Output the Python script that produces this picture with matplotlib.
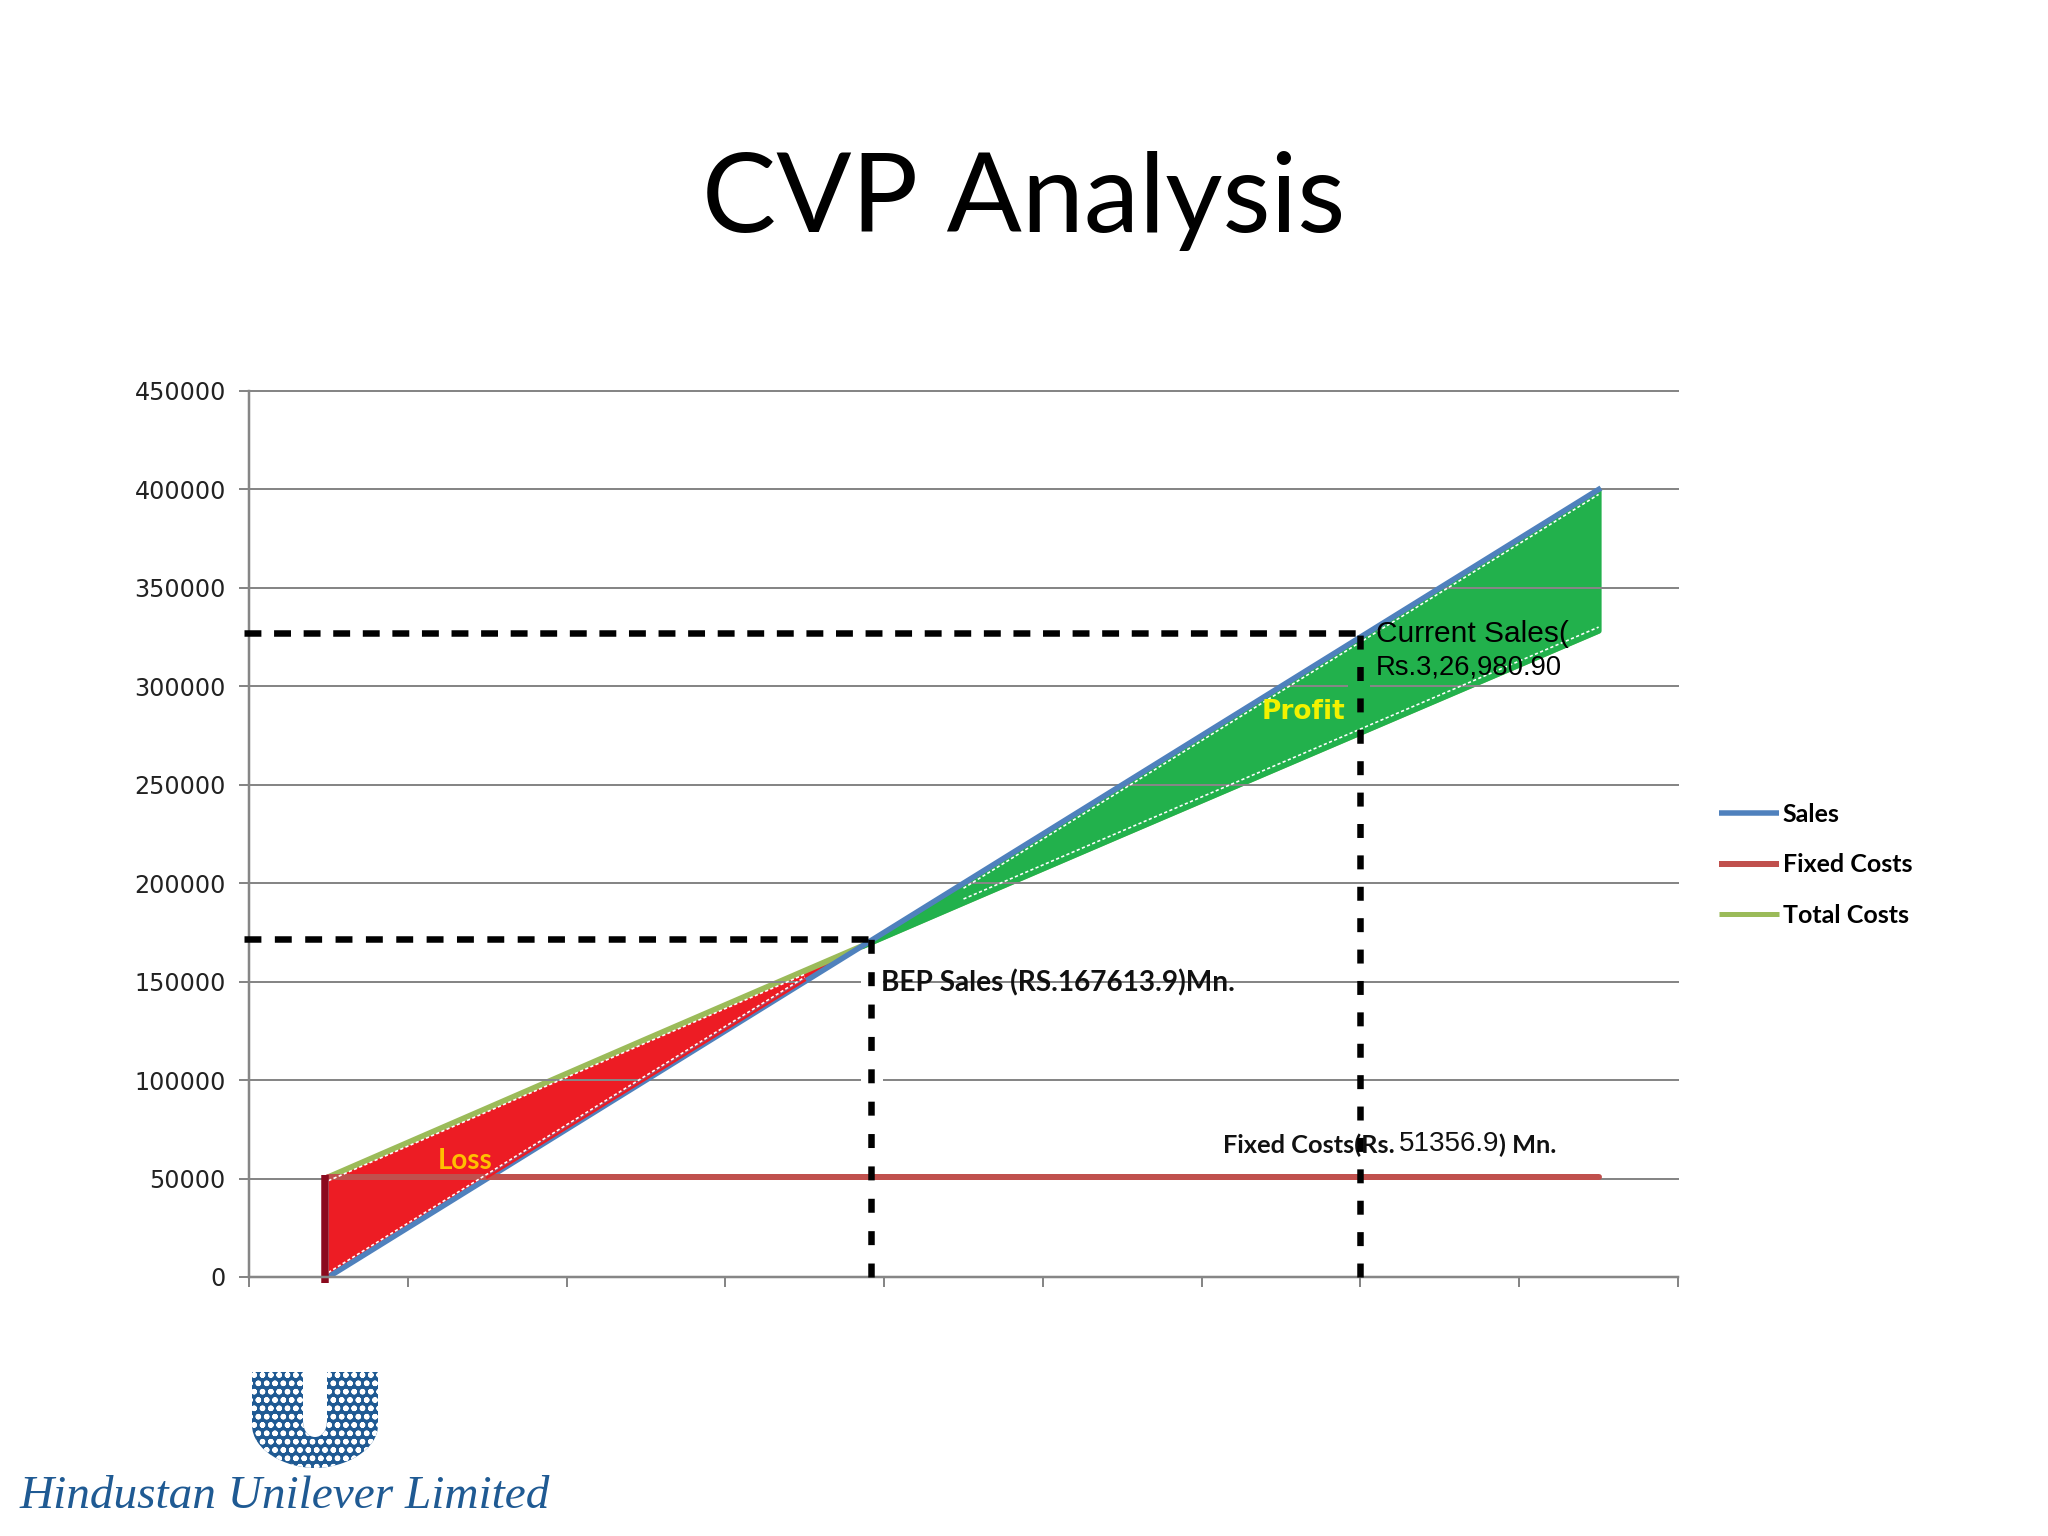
import matplotlib
matplotlib.use("Agg")
import matplotlib.pyplot as plt
import numpy as np
from matplotlib.patches import PathPatch
from matplotlib.path import Path
from matplotlib.transforms import Affine2D, offset_copy

W, H = 2048, 1536

# values
points = [0, 1, 2, 3, 4, 5, 6, 7, 8]
sales = [0, 50000, 100000, 150000, 200000, 250000, 300000, 350000, 400000]
fixed_costs = [50700, 50700, 50700, 50700, 50700, 50700, 50700, 50700, 50700]
total_costs = [50700, 85700, 120700, 155500, 190200, 224800, 259300, 293800, 328300]
y_ticks = [0, 50000, 100000, 150000, 200000, 250000, 300000, 350000, 400000, 450000]
bep_x, bep_y = 3.415, 171500
current_x, current_y = 6.5, 326980

BLUE = "#4F81BD"
BROWN = "#C0504D"
OLIVE = "#9BBB59"
RED = "#ED1C24"
GREEN = "#22B14C"
GRID = "#868686"
LOGO = "#1F5A93"
px = 72 / 100  # line widths are given in pixels below

plt.rcParams["hatch.linewidth"] = 1.6

fig = plt.figure(figsize=(W / 100, H / 100), dpi=100, facecolor="white")
ax = fig.add_axes([249 / W, 1 - 1277 / H, (1678 - 249) / W, (1277 - 391) / H])


def put(x, y, s, **kw):
    kw.setdefault("va", "center")
    kw.setdefault("zorder", 5)
    return ax.text(x / W, 1 - y / H, s, transform=fig.transFigure, clip_on=False, **kw)


x = np.array(points)
s = np.array(sales)
t = np.array(total_costs)

ax.fill_between(x, s, t, where=t >= s, interpolate=True, color=RED, lw=0, zorder=1.2)
ax.plot(points, total_costs, color=OLIVE, lw=6 * px, zorder=1.3, solid_capstyle="butt")
ax.fill_between(x, s, t, where=s >= t, interpolate=True, facecolor=GREEN, edgecolor=GREEN,
                lw=5 * px, zorder=1.4)

line_sales, = ax.plot(points, sales, color=BLUE, lw=5.5 * px, zorder=2, label="Sales")
line_fixed, = ax.plot(points, fixed_costs, color=BROWN, lw=6 * px, zorder=2.1, label="Fixed Costs")
line_total, = ax.plot([], [], color=OLIVE, lw=5 * px, label="Total Costs")
line_fixed.set_solid_capstyle("round")

# hand drawn edges on top of the shapes
up1 = offset_copy(ax.transData, fig, y=1.2, units="dots")
up4 = offset_copy(ax.transData, fig, y=4.5, units="dots")
up3 = offset_copy(ax.transData, fig, y=3.5, units="dots")
dn3 = offset_copy(ax.transData, fig, y=-3.5, units="dots")
dn5 = offset_copy(ax.transData, fig, y=-5, units="dots")
ax.plot(points[1:4], sales[1:4], color=RED, lw=2.5 * px, zorder=2.2, transform=up1)
dots = dict(color="white", lw=1.6 * px, zorder=2.3, ls=(0, (2, 1.5)))
ax.plot(points[0:4], sales[0:4], transform=up4, **dots)
ax.plot(points[0:4], total_costs[0:4], transform=dn3, **dots)
ax.plot(points[4:9], sales[4:9], transform=dn5, **dots)
ax.plot(points[4:9], total_costs[4:9], transform=up3, **dots)

ax.plot([-0.02, -0.02], [-3000, 52000], color="#8B0A1E", lw=7.5 * px, zorder=2.4,
        solid_capstyle="butt", clip_on=False)

# small breaks in the gridlines next to the guides
ax.plot([3.36, 3.48], [150000, 150000], color="white", lw=3 * px, zorder=1.6)
ax.plot([3.36, 3.48], [100000, 100000], color="white", lw=3 * px, zorder=1.6)
ax.plot([6.43, 6.55], [300000, 300000], color=GREEN, lw=3 * px, zorder=1.6)

# dashed guides, drawn so that a dash lands on both ends
guide = dict(color="black", lw=6.5 * px, zorder=3, clip_on=False, dash_capstyle="butt")
ax.plot([-0.53, bep_x], [bep_y, bep_y], ls=(0, (2.6, 2.07)), **guide)
ax.plot([bep_x, bep_x], [0, bep_y], ls=(0, (2.15, 2.83)), **guide)
ax.plot([-0.53, current_x], [current_y, current_y], ls=(0, (2.6, 1.95)), **guide)
ax.plot([current_x, current_x], [0, current_y], ls=(0, (2.15, 2.68)), **guide)

ax.set_xlim(-0.5, 8.5)
ax.set_ylim(0, 450000)
ax.set_yticks(y_ticks)
ax.set_xticks(np.arange(-0.5, 9))
ax.set_xticklabels([])
ax.set_axisbelow("line")
ax.yaxis.grid(True, color=GRID, lw=2 * px)
for g in ax.get_ygridlines():
    g.set_clip_on(False)
ax.tick_params(axis="both", length=10 * px, width=2 * px, color=GRID)
ax.tick_params(axis="y", labelsize=17.2, labelcolor="#222222", pad=9.5)
for side in ("top", "right"):
    ax.spines[side].set_visible(False)
for side in ("left", "bottom"):
    ax.spines[side].set_color(GRID)
    ax.spines[side].set_linewidth(2.5 * px)

leg = ax.legend(handles=[line_sales, line_fixed, line_total], loc="upper left",
                bbox_to_anchor=(1719 / W, 1 - 803 / H), bbox_transform=fig.transFigure,
                frameon=False, borderpad=0, borderaxespad=0, handlelength=2.4,
                handletextpad=0.15, labelspacing=1.1,
                prop={"family": "Lato", "weight": "bold", "size": 18})
for h in leg.get_lines():
    h.set_solid_capstyle("butt")

put(1024, 232, "CVP Analysis", family="Lato", size=80, ha="center", va="baseline", color="black")

put(1376, 634, "Current Sales(", family="Liberation Sans", size=21.5, color="black")
put(1376, 668, "Rs.3,26,980.90", family="Liberation Sans", size=19.7, color="black")
put(1262, 712, "Profit", family="DejaVu Sans", weight="bold", size=19, color="#F2F200")
put(438, 1161, "Loss", family="Lato", weight="bold", size=20, color="#FFC000")
put(881, 983, "BEP Sales (RS.167613.9)Mn.", family="Lato", weight="bold", size=20.2, color="#111111")
put(1223, 1145, "Fixed Costs(Rs.", family="Lato", weight="bold", size=18.3, color="#111111", zorder=2.9)
put(1399, 1144, "51356.9", family="Liberation Sans", size=20, color="#111111")
put(1499, 1145, ") Mn.", family="Lato", weight="bold", size=18.3, color="#111111")

# logo, drawn in slide pixels
verts = [(252, 1372), (252, 1425), (252, 1450), (285, 1468), (315, 1468), (345, 1468), (378, 1450),
         (378, 1425), (378, 1372), (327, 1372), (327, 1420), (327, 1432), (321, 1437), (315, 1437),
         (309, 1437), (303, 1432), (303, 1420), (303, 1372), (252, 1372)]
codes = [Path.MOVETO, Path.LINETO, Path.CURVE4, Path.CURVE4, Path.CURVE4, Path.CURVE4, Path.CURVE4,
         Path.CURVE4, Path.LINETO, Path.LINETO, Path.LINETO, Path.CURVE4, Path.CURVE4, Path.CURVE4,
         Path.CURVE4, Path.CURVE4, Path.CURVE4, Path.LINETO, Path.CLOSEPOLY]
to_fig = Affine2D().scale(1 / W, -1 / H).translate(0, 1) + fig.transFigure
fig.add_artist(PathPatch(Path(verts, codes), facecolor=LOGO, edgecolor="white", lw=0,
                         hatch="oo", transform=to_fig))
put(20, 1497, "Hindustan Unilever Limited", family="Liberation Serif", style="italic", size=34,
    color=LOGO)

fig.savefig("out.png", dpi=100)
